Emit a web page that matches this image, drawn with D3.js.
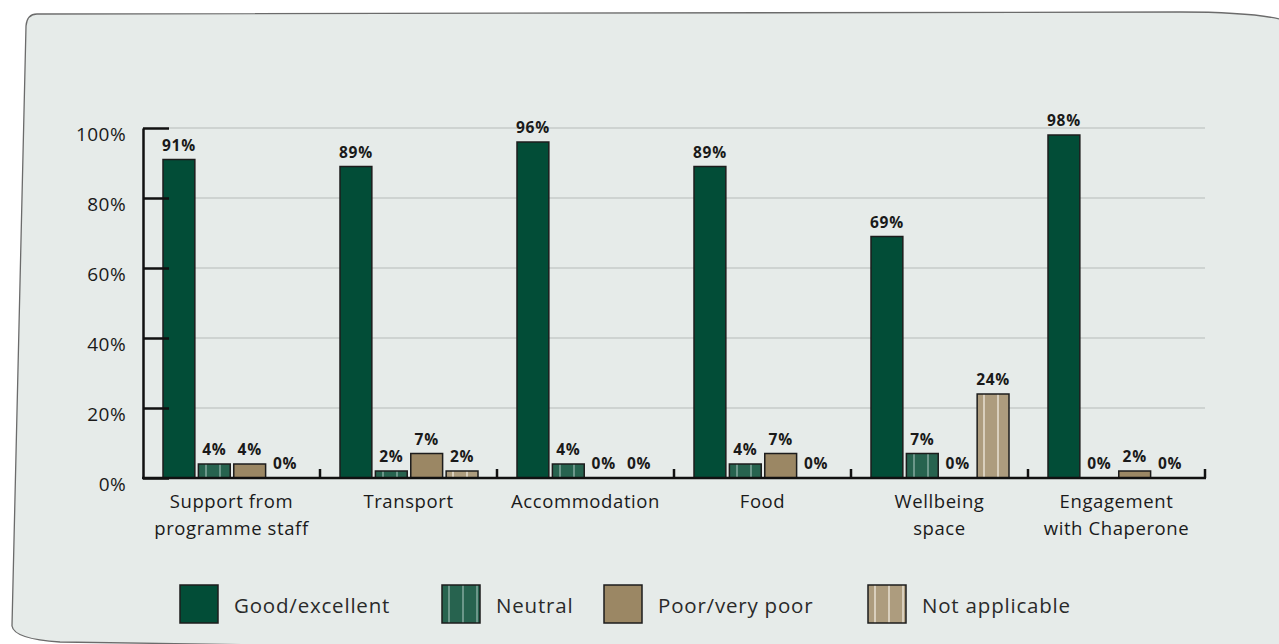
<!DOCTYPE html>
<html>
<head>
<meta charset="utf-8">
<script src="https://cdn.jsdelivr.net/npm/d3@7"></script>
<style>
  body { margin: 0; background: #ffffff; }
  svg { display: block; font-family: "Open Sans", sans-serif; }
</style>
</head>
<body>
<svg id="chart" width="1279" height="644"></svg>
<script>
// donnees
var categories = ["Support from programme staff", "Transport", "Accommodation", "Food", "Wellbeing space", "Engagement with Chaperone"];
var categoryLines = [["Support from", "programme staff"], ["Transport"], ["Accommodation"], ["Food"], ["Wellbeing", "space"], ["Engagement", "with Chaperone"]];
var seriesNames = ["Good/excellent", "Neutral", "Poor/very poor", "Not applicable"];
var good = [91, 89, 96, 89, 69, 98];
var neutral = [4, 2, 4, 4, 7, 0];
var poor = [4, 7, 0, 7, 0, 2];
var notApplicable = [0, 2, 0, 0, 24, 0];
var yTicks = [0, 20, 40, 60, 80, 100];

var series = [good, neutral, poor, notApplicable];
var fills = ["#024d37", "url(#stripeNeutral)", "#9b8764", "url(#stripeNA)"];

var svg = d3.select("#chart");

// patterns rayures
var defs = svg.append("defs");
function stripe(id, base, line) {
  var p = defs.append("pattern")
    .attr("id", id)
    .attr("patternUnits", "userSpaceOnUse")
    .attr("width", 14).attr("height", 10);
  p.append("rect").attr("width", 14).attr("height", 10).attr("fill", base);
  p.append("rect").attr("x", 6).attr("width", 2).attr("height", 10).attr("fill", line);
}
stripe("stripeNeutral", "#27634f", "#6c978a");
stripe("stripeNA", "#ad9c7e", "#d9cfbd");

// fond du panneau
svg.append("path")
  .attr("d", "M37,14 L1180,12 Q1262,12 1290,22 L1290,660 L60,642 Q14,639 12,626 L26,26 Q27,14 37,14 Z")
  .attr("fill", "#e6ebe9")
  .attr("stroke", "#6b6b6b")
  .attr("stroke-width", 1.3);

var left = 143, right = 1205;
var x0 = d3.scaleBand().domain(categories).range([left, right]);
var x1 = d3.scaleBand().domain(seriesNames).range([20, 158]).paddingInner(0.1);
var y = d3.scaleLinear().domain([0, 100]).range([478, 128]);

// grille horizontale
svg.append("g").selectAll("line")
  .data(yTicks.filter(function(d) { return d > 0; }))
  .enter().append("line")
  .attr("x1", left + 26).attr("x2", right)
  .attr("y1", function(d) { return y(d); })
  .attr("y2", function(d) { return y(d); })
  .attr("stroke", "#c6cbc9").attr("stroke-width", 1.5);

// barres
var groups = svg.append("g").selectAll("g")
  .data(categories)
  .enter().append("g")
  .attr("transform", function(d) { return "translate(" + x0(d) + ",0)"; });

seriesNames.forEach(function(s, si) {
  groups.each(function(c, ci) {
    var v = series[si][ci];
    var g = d3.select(this);
    if (v > 0) {
      g.append("rect")
        .attr("x", x1(s))
        .attr("y", y(v))
        .attr("width", x1.bandwidth())
        .attr("height", y(0) - y(v))
        .attr("fill", fills[si])
        .attr("stroke", "#1c1c1c")
        .attr("stroke-width", 1.5);
    }
    g.append("text")
      .attr("x", x1(s) + x1.bandwidth() / 2)
      .attr("y", y(v) - 9)
      .attr("text-anchor", "middle")
      .attr("font-size", 15.5)
      .attr("font-weight", "bold")
      .attr("letter-spacing", 0.7)
      .attr("fill", "#1a1a1a")
      .text(v + "%");
  });
});

// axe Y
var yAxis = svg.append("g")
  .attr("transform", "translate(" + left + ",0)")
  .call(d3.axisLeft(y).tickValues(yTicks).tickSize(-26).tickSizeOuter(0).tickPadding(17)
    .tickFormat(function(d) { return d + "%"; }));
yAxis.select(".domain").attr("stroke", "#111").attr("stroke-width", 2.5);
yAxis.selectAll(".tick line").attr("stroke", "#111").attr("stroke-width", 2.5);
yAxis.selectAll(".tick text")
  .attr("font-size", 19)
  .attr("letter-spacing", 0.4)
  .attr("font-family", "Open Sans, sans-serif")
  .attr("fill", "#1a1a1a")
  .attr("dy", "0.66em");

// axe X
svg.append("line")
  .attr("x1", left - 1).attr("x2", right + 1)
  .attr("y1", y(0)).attr("y2", y(0))
  .attr("stroke", "#111").attr("stroke-width", 2.5);
svg.append("g").selectAll("line")
  .data(categories)
  .enter().append("line")
  .attr("x1", function(d) { return x0(d) + x0.bandwidth(); })
  .attr("x2", function(d) { return x0(d) + x0.bandwidth(); })
  .attr("y1", y(0)).attr("y2", y(0) - 9)
  .attr("stroke", "#111").attr("stroke-width", 2.5);

var catLabels = svg.append("g").selectAll("text")
  .data(categories)
  .enter().append("text")
  .attr("text-anchor", "middle")
  .attr("font-size", 18.5)
  .attr("fill", "#1a1a1a")
  .attr("x", function(d) { return x0(d) + x0.bandwidth() / 2; })
  .attr("y", 508);
catLabels.each(function(d, i) {
  var t = d3.select(this);
  categoryLines[i].forEach(function(line, li) {
    t.append("tspan")
      .attr("x", x0(d) + x0.bandwidth() / 2)
      .attr("dy", li === 0 ? 0 : 27)
      .attr("letter-spacing", 0.6)
      .text(line);
  });
});

// legende
var legendX = [180, 442, 604, 868];
var legend = svg.append("g").selectAll("g")
  .data(seriesNames)
  .enter().append("g")
  .attr("transform", function(d, i) { return "translate(" + legendX[i] + ",585)"; });
legend.append("rect")
  .attr("width", 38).attr("height", 38)
  .attr("fill", function(d, i) { return fills[i]; })
  .attr("stroke", "#1c1c1c").attr("stroke-width", 1.5);
legend.append("text")
  .attr("x", 54).attr("y", 28)
  .attr("font-size", 20.5)
  .attr("letter-spacing", 0.8)
  .attr("fill", "#2a2a2a")
  .text(function(d) { return d; });
</script>
</body>
</html>
